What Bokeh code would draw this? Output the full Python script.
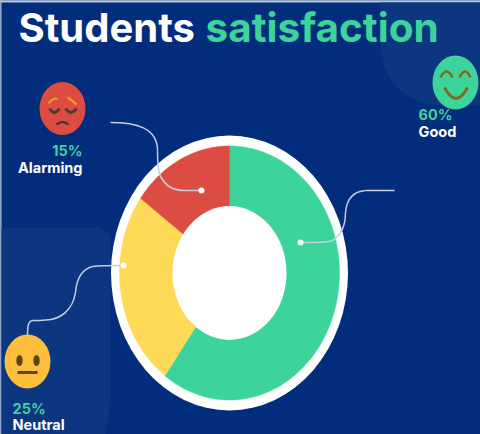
import math
from bokeh.plotting import figure
from bokeh.models import Range1d
from bokeh.core.properties import value
from bokeh.embed import file_html
from bokeh.resources import INLINE

categories = ["Good", "Neutral", "Alarming"]
shares = [60, 25, 15]
share_labels = ["60%", "25%", "15%"]
colors = ["#3DD49C", "#FFDA59", "#DC4C43"]

NAVY = "#022D7C"
PANEL = "#0C3780"
WHITE = "#FFFFFF"
LINE = "#C6CFE0"
FONT = value("Inter")

p = figure(width=480, height=434, output_backend="svg", toolbar_location=None,
           x_range=Range1d(0, 480), y_range=Range1d(434, 0),
           min_border=0, background_fill_color=NAVY, border_fill_color=NAVY)
p.axis.visible = False
p.grid.visible = False
p.outline_line_color = None
p.styles = {"position": "absolute", "left": "0px", "top": "0px"}

# thin light edge of the picture
p.quad(left=[0], right=[480], top=[0], bottom=[2], fill_color="#B9C3D6", line_color=None)
p.quad(left=[0], right=[1], top=[0], bottom=[434], fill_color="#B9C3D6", line_color=None)

# decorative panels
p.patch([1, 100, 110, 110, 105, 1], [227, 227, 235, 400, 434, 434], fill_color=PANEL, line_color=None)
th = [math.radians(a) for a in range(90, 181, 5)]
p.patch([380] + [440 + 60 * math.cos(t) for t in th][::-1] + [480, 480],
        [2] + [45 + 60 * math.sin(t) for t in th][::-1] + [105, 2],
        fill_color=PANEL, line_color=None)

# donut
cx, cy = 229, 272.5
rx, ry = 110, 127
hx, hy = 57, 67


def ellipse(px, py, ax, ay, **kw):
    p.ellipse(x=[px], y=[py], width=[2 * ax], height=[2 * ay], **kw)


ellipse(cx, cy, 118.5, 137.5, fill_color=WHITE, line_color=None)
start = 0.0
total = sum(shares)
for s, c in zip(shares, colors):
    # clockwise from twelve o'clock, drawn in the order Good, Neutral, Alarming
    span = s / total * 2 * math.pi
    n = max(8, int(s * 2))
    ang = [start + span * i / n for i in range(n + 1)]
    xs = [cx] + [cx + rx * math.sin(a) for a in ang]
    ys = [cy] + [cy - ry * math.cos(a) for a in ang]
    p.patch(xs, ys, fill_color=c, line_color=c, line_width=0.5)
    start += span
ellipse(cx, cy, hx, hy, fill_color=WHITE, line_color=None)

# leaders
leaders = [
    [(110, 122), (135, 122), (157, 127), (157, 150)],
    [(157, 150), (157, 160), (158, 172), (160, 176)],
    [(160, 176), (166, 186), (172, 190), (185, 190)],
    [(185, 190), (190, 190), (195, 190), (201, 190)],
    [(394, 190), (385, 190), (375, 190), (365, 190)],
    [(365, 190), (352, 191), (346, 200), (345, 212)],
    [(345, 212), (345, 225), (340, 235), (332, 240)],
    [(332, 240), (322, 243), (312, 242), (300, 242)],
    [(123, 265), (112, 265), (100, 265), (92, 266)],
    [(92, 266), (80, 269), (76, 280), (75, 292)],
    [(75, 292), (72, 310), (60, 319), (45, 319.5)],
    [(45, 319.5), (40, 320), (35, 320), (33, 320)],
    [(33, 320), (28, 320), (27, 324), (27, 336)],
]
for a, b, c, d in leaders:
    p.bezier(x0=[a[0]], y0=[a[1]], x1=[d[0]], y1=[d[1]], cx0=[b[0]], cy0=[b[1]], cx1=[c[0]], cy1=[c[1]],
             line_color=LINE, line_width=1.5)
p.scatter(x=[201, 300, 123], y=[190, 242, 265], size=6, fill_color=WHITE, line_color=None)


def arc(x0, y0, x1, y1, cxp, cyp, col, lw=2.0):
    p.quadratic(x0=[x0], y0=[y0], x1=[x1], y1=[y1], cx=[cxp], cy=[cyp], line_color=col, line_width=lw)


# Alarming face
ellipse(62, 108, 23, 26.5, fill_color="#DC4C43", line_color=None)
OR = "#E8A010"
DK = "#4E3A34"
arc(48, 103, 57, 99, 54, 96, OR, 2.4)
arc(67, 97, 76, 104, 69, 98, OR, 2.4)
arc(49, 108, 59, 108, 54, 116, DK, 3)
arc(65, 108, 76, 108, 70.5, 116, DK, 3)
arc(56, 124, 68, 124, 62, 119, DK, 2.4)

# Good face
ellipse(455, 82, 23, 27, fill_color="#3DD49C", line_color=None)
BR = "#82661E"
arc(440, 77, 452, 77, 446, 65, BR, 2.4)
arc(459, 77, 470, 77, 464.5, 65, BR, 2.4)
arc(444, 87, 467, 87, 455.5, 109, BR, 2.8)

# Neutral face
ellipse(27, 361, 23, 27, fill_color="#FDBE3B", line_color=None)
ellipse(19, 360, 3.2, 5.5, fill_color="#5E4410", line_color=None)
ellipse(36, 360, 3.2, 5.5, fill_color="#5E4410", line_color=None)
p.line([17, 37], [372, 372], line_color="#5E4410", line_width=2.8)


def label(x, y, t, col, size, align="left", weight="bold"):
    p.text(x=[x], y=[y], text=[t], text_color=col, text_font=FONT, text_font_size=size,
           text_align=align, text_baseline="middle", text_font_style=weight)


label(18, 27, "Students", WHITE, "40px")
label(205, 27, "satisfaction", colors[0], "40.5px")
label(82, 150, share_labels[2], colors[0], "14.5px", "right")
label(82, 167, categories[2], WHITE, "14.5px", "right")
label(418, 114, share_labels[0], colors[0], "14.5px")
label(418, 131, categories[0], WHITE, "14.5px")
label(12, 408, share_labels[1], colors[0], "14.5px")
label(12, 424, categories[1], WHITE, "14.5px")

open("out.html", "w").write(file_html(p, INLINE))
